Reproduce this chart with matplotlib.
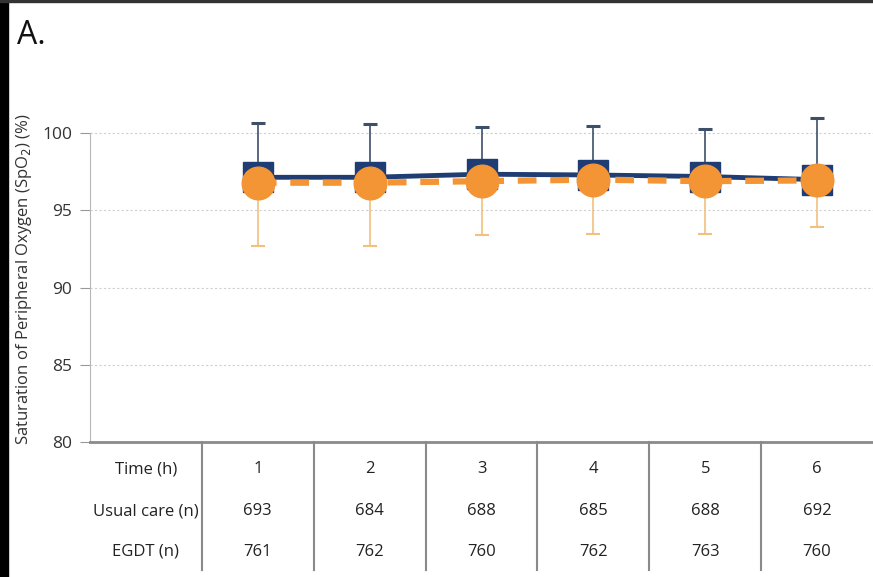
import numpy as np
import matplotlib.pyplot as plt
import matplotlib.transforms as mtransforms

# values
hours = [1, 2, 3, 4, 5, 6]
usual_mean = [97.15, 97.15, 97.35, 97.3, 97.2, 97.0]
usual_sd = [3.5, 3.45, 3.05, 3.2, 3.05, 4.0]
egdt_mean = [96.8, 96.8, 96.9, 97.0, 96.9, 96.95]
egdt_sd = [4.1, 4.1, 3.5, 3.5, 3.4, 3.05]
usual_n = [693, 684, 688, 685, 688, 692]
egdt_n = [761, 762, 760, 762, 763, 760]
row_labels = ["Time (h)", "Usual care (n)", "EGDT (n)"]
y_ticks = [80, 85, 90, 95, 100]

navy = "#1f3d73"
orange = "#f39435"

plt.rcParams['font.family'] = ['Open Sans', 'DejaVu Sans']

fig = plt.figure(figsize=(8.73, 5.77), dpi=100)
ax = fig.add_axes([90 / 873, (577 - 442) / 577, 783 / 873, (442 - 87) / 577])

x = np.array(hours)

# usual care: upper error bar only
ax.errorbar(x, usual_mean, yerr=[np.zeros(len(x)), usual_sd], fmt='none',
            ecolor="#3e4f6a", elinewidth=1.2, capsize=5, capthick=2.2, zorder=2)
ax.plot(x, usual_mean, color=navy, lw=3.5, marker='s', markersize=21,
        markerfacecolor=navy, markeredgecolor=navy, zorder=3)

# EGDT: lower error bar only
ax.errorbar(x, egdt_mean, yerr=[egdt_sd, np.zeros(len(x))], fmt='none',
            ecolor="#f0c17f", elinewidth=1.2, capsize=5, capthick=1.5, zorder=2)
ax.plot(x, egdt_mean, color=orange, lw=4.5, ls=(0, (3, 2.2)), zorder=4)
ax.plot(x, egdt_mean, ls='none', marker='o', markersize=23.5,
        markerfacecolor=orange, markeredgecolor=orange, zorder=5)

ax.set_xlim(-0.5, 6.5)
ax.set_ylim(80, 103)
ax.set_yticks(y_ticks)
ax.set_xticks([])
ax.tick_params(axis='y', length=7, color='#999999', labelsize=12.5, labelcolor='#333333', pad=6)
for t in y_ticks[1:]:
    ax.axhline(t, color='#cfcfcf', lw=0.8, ls=(0, (2, 2)), zorder=0)

for s in ['top', 'right']:
    ax.spines[s].set_visible(False)
ax.spines['left'].set_bounds(80, 100)
ax.spines['left'].set_color('#b8b8b8')
ax.spines['bottom'].set_color('#8a8a8a')
ax.spines['bottom'].set_linewidth(2)

ax.set_ylabel("Saturation of Peripheral Oxygen (SpO$_2$) (%)", fontsize=12,
              color='#333333')
ax.yaxis.set_label_coords(-(90 - 34) / 783, 0.46)

# table under the axis
trans = mtransforms.blended_transform_factory(ax.transData, fig.transFigure)
row_y = [(577 - 469) / 577, (577 - 511) / 577, (577 - 552) / 577]
for k, label in enumerate(row_labels):
    ax.text(0, row_y[k], label, transform=trans, ha='center', va='center',
            fontsize=12, color='#222222')
for i, h in enumerate(hours):
    cells = [str(h), str(usual_n[i]), str(egdt_n[i])]
    for k, c in enumerate(cells):
        ax.text(h, row_y[k], c, transform=trans, ha='center', va='center',
                fontsize=12, color='#222222')
for b in np.arange(0.5, 6.0, 1.0):
    ax.plot([b, b], [(577 - 442) / 577, (577 - 570) / 577], transform=trans,
            color='#8a8a8a', lw=1.5, clip_on=False)

# panel letter and frame
fig.text(17 / 873, 1 - 36 / 577, "A.", fontsize=23, va='center', ha='left', color='#111111')
fig.patches.append(plt.Rectangle((0, 0), 8 / 873, 1, transform=fig.transFigure,
                                 color='black', zorder=10))
fig.patches.append(plt.Rectangle((0, 1 - 2 / 577), 1, 2 / 577, transform=fig.transFigure,
                                 color='#333333', zorder=10))

fig.savefig("out.png", dpi=100)
